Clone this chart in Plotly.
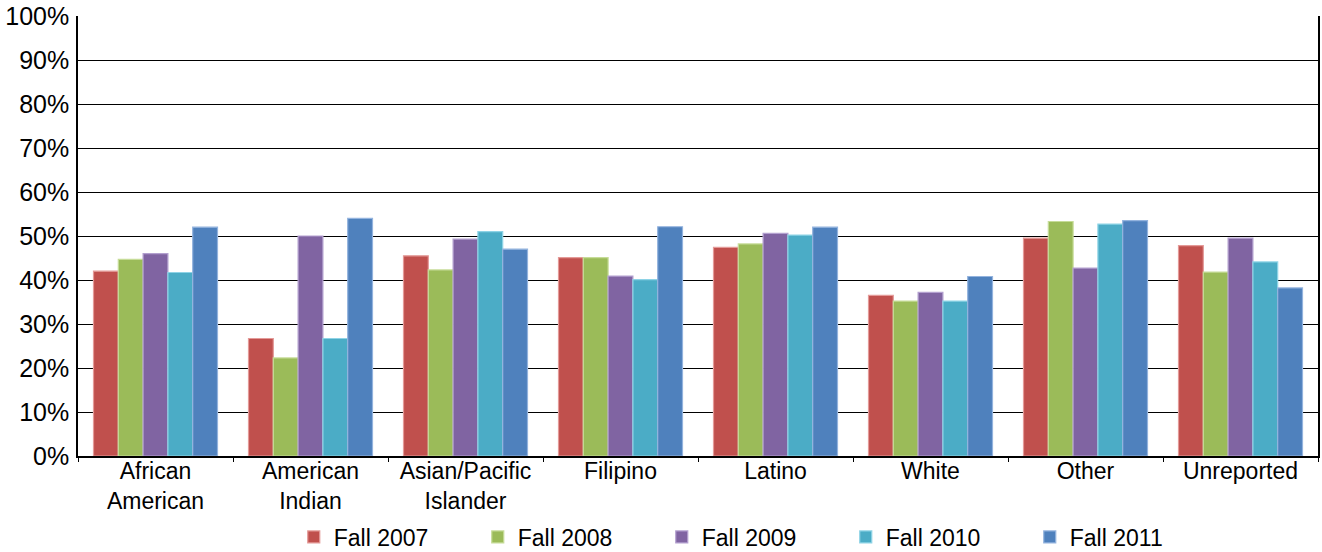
import plotly.graph_objects as go

categories = ["African<br>American", "American<br>Indian", "Asian/Pacific<br>Islander", "Filipino",
              "Latino", "White", "Other", "Unreported"]
series_names = ["Fall 2007", "Fall 2008", "Fall 2009", "Fall 2010", "Fall 2011"]
fall_2007 = [42.0, 26.7, 45.5, 45.1, 47.4, 36.5, 49.5, 47.8]
fall_2008 = [44.7, 22.3, 42.3, 45.1, 48.2, 35.2, 53.3, 41.8]
fall_2009 = [46.0, 50.0, 49.3, 40.9, 50.6, 37.2, 42.7, 49.5]
fall_2010 = [41.7, 26.7, 51.0, 40.1, 50.2, 35.2, 52.7, 44.1]
fall_2011 = [52.0, 54.0, 47.0, 52.1, 52.0, 40.8, 53.5, 38.2]
y_ticks = [0, 10, 20, 30, 40, 50, 60, 70, 80, 90, 100]

colors = ["#C0504D", "#9BBB59", "#8064A2", "#4BACC6", "#4F81BD"]
outlines = ["#E49A98", "#C6DC98", "#B3A0CF", "#8ED3E6", "#93B3DE"]

fig = go.Figure()
for name, vals, c, oc in zip(series_names, [fall_2007, fall_2008, fall_2009, fall_2010, fall_2011], colors, outlines):
    fig.add_trace(go.Bar(x=categories, y=vals, name=name,
                         marker=dict(color=c, line=dict(color=oc, width=1.2))))

fig.update_layout(
    width=1322, height=552,
    margin=dict(l=78, r=4, t=16, b=96, autoexpand=False),
    paper_bgcolor="white", plot_bgcolor="white",
    barmode="group", bargap=0.2, bargroupgap=0,
    font=dict(family="Liberation Sans, Arial, sans-serif", size=22, color="black"),
    legend=dict(orientation="h", x=0.174, xanchor="left", y=-0.184, yanchor="middle",
                font=dict(size=23), entrywidth=139, entrywidthmode="pixels",
                traceorder="normal"),
    showlegend=True,
)
fig.update_xaxes(showline=True, linecolor="black", linewidth=1.5, mirror=False,
                 ticks="outside", tickson="boundaries", ticklen=4, tickcolor="black",
                 tickfont=dict(size=23), showgrid=False, automargin=False,
                 ticklabelstandoff=-6)
fig.update_yaxes(range=[0, 100], tickvals=y_ticks, ticktext=[f"{v}%" for v in y_ticks],
                 showline=True, linecolor="black", linewidth=1.5, mirror=True,
                 showgrid=True, gridcolor="black", gridwidth=1,
                 ticks="", tickfont=dict(size=25), ticklabelstandoff=2, zeroline=False,
                 automargin=False)

fig.write_html("out.html", config={"displayModeBar": False},
               post_script="document.body.style.margin='0';document.body.style.overflow='hidden';")
